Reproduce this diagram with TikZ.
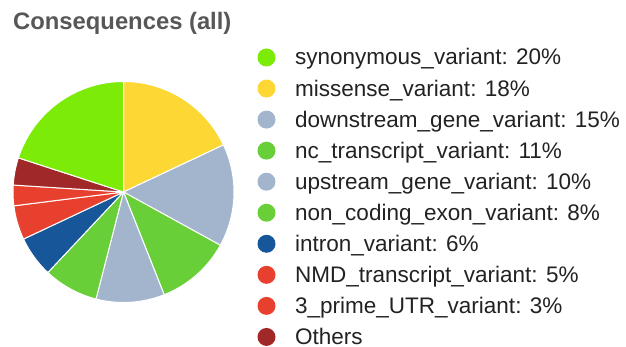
\documentclass[tikz,border=0pt]{standalone}
\usepackage{fontspec}
\setmainfont{Liberation Sans}
\definecolor{CQlime}{HTML}{7DEB08}
\definecolor{CQyellow}{HTML}{FDD733}
\definecolor{CQslate}{HTML}{A3B5CD}
\definecolor{CQgreen}{HTML}{69CF38}
\definecolor{CQblue}{HTML}{18569A}
\definecolor{CQred}{HTML}{E8402F}
\definecolor{CQmaroon}{HTML}{A02828}
\definecolor{CQtitle}{HTML}{575757}
\definecolor{CQtext}{HTML}{222222}

\begin{document}
\begin{tikzpicture}[x=1pt, y=1pt,
    slice/.style={draw=white, line width=1pt, line join=round},
    swatch/.style={circle, inner sep=0pt, minimum size=18pt},
    entry/.style={anchor=base west, inner sep=0pt, text=CQtext,
       font=\fontsize{22.5}{25}\selectfont}]
   \useasboundingbox (0,0) rectangle (626,347);
   % Title
   \node[anchor=base west, inner sep=0pt, text=CQtitle,
      font=\bfseries\fontsize{23.8}{27}\selectfont] (title) at (13,317) {Consequences (all)};
   % Pie: slices clockwise from 12 o'clock
   \coordinate (pie) at (123.5,155);
   \foreach \from/\to/\col in {90/25.2/CQyellow, 25.2/-28.8/CQslate,
         -28.8/-68.4/CQgreen, -68.4/-104.4/CQslate, -104.4/-133.2/CQgreen,
         -133.2/-154.8/CQblue, -154.8/-172.8/CQred, -172.8/-183.6/CQred,
         -183.6/-198/CQmaroon, -198/-270/CQlime}
      \filldraw[slice, fill=\col] (pie) -- ++(\from:110.5)
         arc[start angle=\from, end angle=\to, radius=110.5] -- cycle;
   % Legend
   \foreach \lbl/\col [count=\i from 0] in {
         synonymous\_variant: 20\%/CQlime,
         missense\_variant: 18\%/CQyellow,
         downstream\_gene\_variant: 15\%/CQslate,
         nc\_transcript\_variant: 11\%/CQgreen,
         upstream\_gene\_variant: 10\%/CQslate,
         non\_coding\_exon\_variant: 8\%/CQgreen,
         intron\_variant: 6\%/CQblue,
         NMD\_transcript\_variant: 5\%/CQred,
         3\_prime\_UTR\_variant: 3\%/CQred,
         Others/CQmaroon} {
      \node[swatch, fill=\col] (sw\i) at (266.5,{289.5-31.05*\i}) {};
      \node[entry] (lg\i) at (295,{282-31.05*\i}) {\lbl};
   }
\end{tikzpicture}
\end{document}
